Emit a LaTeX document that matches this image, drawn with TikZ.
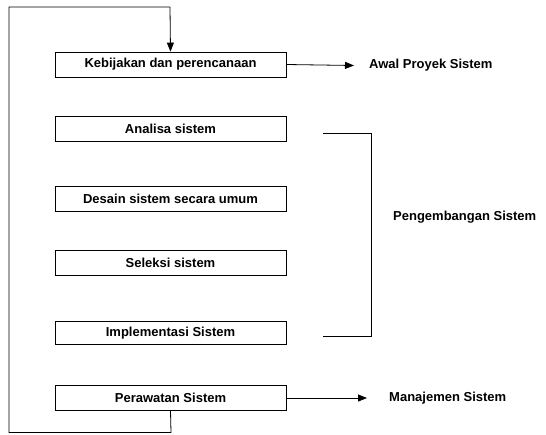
\documentclass[tikz,border=0pt]{standalone}
\usepackage{fontspec}
\setmainfont{Liberation Sans}
\usetikzlibrary{arrows.meta}
\begin{document}
\begin{tikzpicture}[x=1pt,y=-1pt,
  stagebox/.style={draw, line width=0.8pt, minimum width=231pt, minimum height=25pt,
    inner sep=0pt, font=\fontsize{13}{15}\selectfont\bfseries},
  lbl/.style={anchor=west, inner sep=0pt, font=\fontsize{13}{15}\selectfont\bfseries},
  conn/.style={line width=0.8pt},
  arr/.style={conn, -{Triangle[length=9pt,width=7pt]}}]
\useasboundingbox (0,0) rectangle (546,434);
% stages of the cycle
\node[stagebox] (plan) at (170.5,64.5) {Kebijakan dan perencanaan};
\node[stagebox] (anal) at (170.5,129) {Analisa sistem};
\node[stagebox] (desn) at (170.5,198.5) {Desain sistem secara umum};
\node[stagebox] (selk) at (170.5,263) {Seleksi sistem};
\node[stagebox, minimum height=23pt] (impl) at (170.5,333) {Implementasi Sistem};
\node[stagebox] (rawt) at (170.5,398) {Perawatan Sistem};
% phase labels
\node[lbl] (awal) at (369,65) {Awal Proyek Sistem};
\node[lbl] (peng) at (393,217) {Pengembangan Sistem};
\node[lbl] (manj) at (389,398) {Manajemen Sistem};
% outputs to the right
\coordinate (awalTip) at (354,65.5);
\coordinate (manjTip) at (367,398);
\draw[arr] (plan.east) -- (awalTip);
\draw[arr] (rawt.east) -- (manjTip);
% bracket around development stages
\coordinate (brTop) at (323,133);
\coordinate (brBot) at (323,336);
\draw[conn] (brTop) -| (371,336) -- (brBot);
% feedback loop from maintenance back to planning
\coordinate (loopBot) at (171,432.5);
\coordinate (loopTop) at (170,7);
\draw[conn] (rawt.south) -- (loopBot) -- (9,432.5) -- (9,7) -- (loopTop);
\draw[arr] (loopTop) -- (plan.north);
\end{tikzpicture}
\end{document}
